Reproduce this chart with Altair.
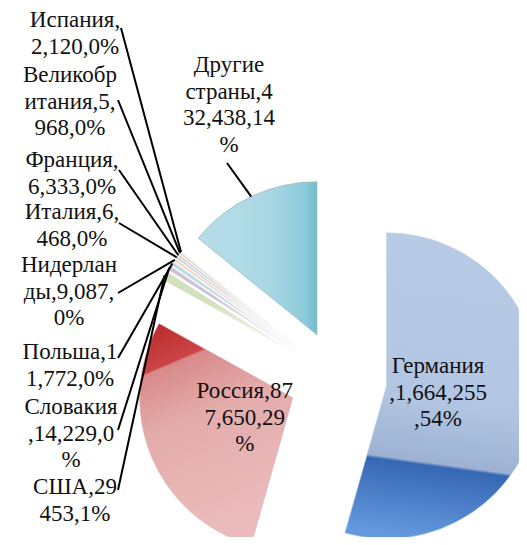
import math
import altair as alt
import pandas as pd

# ---------------- data ----------------
countries = ["Германия", "Россия", "США", "Словакия", "Польша", "Нидерланды",
             "Италия", "Франция", "Великобритания", "Испания", "Другие страны"]
values = [1664255, 877650, 29453, 14229, 11772, 9087, 6468, 6333, 5968, 2120, 432438]
labels = ["Германия\n,1,664,255\n,54%", "Россия,87\n7,650,29\n%", "США,29\n453,1%",
          "Словакия\n,14,229,0\n%", "Польша,1\n1,772,0%", "Нидерлан\nды,9,087,\n0%",
          "Италия,6,\n468,0%", "Франция,\n6,333,0%", "Великобр\nитания,5,\n968,0%",
          "Испания,\n2,120,0%", "Другие\nстраны,4\n32,438,14\n%"]

# ---------------- layout / style ----------------
W, H = 511, 529
CX, CY = 330, 371          # pie centre
R = 153                    # radius
EXPLODE = 49               # explosion distance
INSIDE = 0.34              # inside-label distance (fraction of radius)
LH = 26.5                  # label line height
FONT = "Times New Roman, Liberation Serif, DejaVu Serif, serif"

label_pos = {   # (centre x, first-line y) of outside labels
    "Испания": (67, 12), "Великобритания": (62, 67), "Франция": (64, 152),
    "Италия": (64, 204), "Нидерланды": (61, 257), "Польша": (62, 344),
    "Словакия": (63, 399), "США": (67, 479), "Другие страны": (221, 57),
}
leader_start = {
    "Испания": (113, 20), "Великобритания": (110, 92), "Франция": (111, 162),
    "Италия": (111, 215), "Нидерланды": (110, 285), "Польша": (110, 350),
    "Словакия": (110, 422), "США": (110, 482), "Другие страны": (219, 155),
}
small = ["США", "Словакия", "Польша", "Нидерланды", "Италия", "Франция",
         "Великобритания", "Испания"]
small_colors = ["#d3e0bc", "#cbc2d6", "#bcd8e0", "#ecd6c6", "#bccbe0",
                "#e2c4c4", "#d4dec4", "#cdc8d6"]

rows = []
for i, (c, v, l) in enumerate(zip(countries, values, labels)):
    px, py = label_pos.get(c, (None, None))
    sx, sy = leader_start.get(c, (None, None))
    rows.append(dict(order=i, country=c, value=v, label=l, px=px, py=py, sx=sx, sy=sy))
df = pd.DataFrame(rows)
total = sum(values)

base = (
    alt.Chart(df)
    .transform_joinaggregate(total="sum(value)")
    .transform_window(cum="sum(value)", sort=[alt.SortField("order")], frame=[None, 0])
    .transform_calculate(start="datum.cum - datum.value")
    .transform_calculate(mid="(datum.cum - datum.value/2) / datum.total * 2 * PI")
    .transform_calculate(cx=f"{CX} + {EXPLODE} * sin(datum.mid)")
    .transform_calculate(cy=f"{CY} - {EXPLODE} * cos(datum.mid)")
    .transform_calculate(tipx=f"datum.cx + {R} * sin(datum.mid)")
    .transform_calculate(tipy=f"datum.cy - {R} * cos(datum.mid)")
    .transform_calculate(nlines="length(split(datum.label, '\\n'))")
    .transform_calculate(lx=f"isValid(datum.px) ? datum.px : datum.cx + {INSIDE * R} * sin(datum.mid)")
    .transform_calculate(ly=f"isValid(datum.py) ? datum.py : datum.cy - {INSIDE * R} * cos(datum.mid) - (datum.nlines - 1) * {LH} / 2")
)

theta_scale = alt.Scale(domain=[0, total], range=[0, 2 * math.pi], nice=False, zero=True)
arc_enc = dict(
    theta=alt.Theta("start:Q", scale=theta_scale),
    theta2=alt.Theta2("cum"),
    x=alt.X("cx:Q", scale=None, axis=None),
    y=alt.Y("cy:Q", scale=None, axis=None),
)


def grad(stops, x1=0, y1=0, x2=0, y2=1):
    return alt.Gradient(gradient="linear", x1=x1, y1=y1, x2=x2, y2=y2,
                        stops=[alt.GradientStop(offset=o, color=c) for o, c in stops])


grad_de = grad([(0, "#b8cbe6"), (0.55, "#b2c5e2"), (0.755, "#9db2d3"),
                (0.765, "#3667b3"), (1, "#6398dd")], x1=0.544, y1=0, x2=0.456, y2=1)
grad_ru = grad([(0, "#b7262a"), (0.225, "#cb4545"), (0.236, "#d98a8a"),
                (0.5, "#e4abab"), (1, "#ebbaba")], x1=0, y1=0, x2=0.28, y2=0.96)
grad_ot = grad([(0, "#b6dee9"), (0.6, "#aad7e4"), (0.9, "#8ccbdb"), (1, "#6fbccf")],
               x1=0, y1=0, x2=1, y2=0)
grad_fade = grad([(0, "rgba(255,255,255,0)"), (0.35, "rgba(255,255,255,0)"),
                  (1, "rgba(255,255,255,0.95)")], x1=0, y1=0, x2=1, y2=1)

small_arcs = base.transform_filter(
    alt.FieldOneOfPredicate(field="country", oneOf=small)
).mark_arc(radius=R, stroke="#ffffff", strokeWidth=0.4).encode(
    color=alt.Color("country:N", scale=alt.Scale(domain=small, range=small_colors), legend=None),
    **arc_enc,
)
small_fade = base.transform_filter(
    alt.FieldOneOfPredicate(field="country", oneOf=small)
).mark_arc(radius=R, fill=grad_fade, strokeWidth=0).encode(**arc_enc)

others = base.transform_filter(alt.datum.country == "Другие страны").mark_arc(
    radius=R, fill=grad_ot, stroke="#9fb8c0", strokeWidth=0.8).encode(**arc_enc)
russia = base.transform_filter(alt.datum.country == "Россия").mark_arc(
    radius=R, fill=grad_ru, stroke="#d9b0b0", strokeWidth=0.6).encode(**arc_enc)
germany = base.transform_filter(alt.datum.country == "Германия").mark_arc(
    radius=R, fill=grad_de, stroke="#c4d2e6", strokeWidth=0.6).encode(**arc_enc)

leaders = base.transform_filter("isValid(datum.sx)").mark_rule(
    color="#000000", strokeWidth=2).encode(
    x=alt.X("sx:Q", scale=None, axis=None),
    y=alt.Y("sy:Q", scale=None, axis=None),
    x2="tipx:Q", y2="tipy:Q",
)

texts = base.mark_text(
    lineBreak="\n", font=FONT, fontSize=23, lineHeight=LH,
    align="center", baseline="middle", color="#111111",
).encode(
    text="label:N",
    x=alt.X("lx:Q", scale=None, axis=None),
    y=alt.Y("ly:Q", scale=None, axis=None),
)

chart = alt.layer(small_arcs, small_fade, others, russia, germany, leaders, texts).properties(
    width=W, height=H, padding=0, autosize="none", background="white"
).configure_view(stroke=None)

chart.save("out.html", embed_options={"renderer": "svg", "actions": False})
